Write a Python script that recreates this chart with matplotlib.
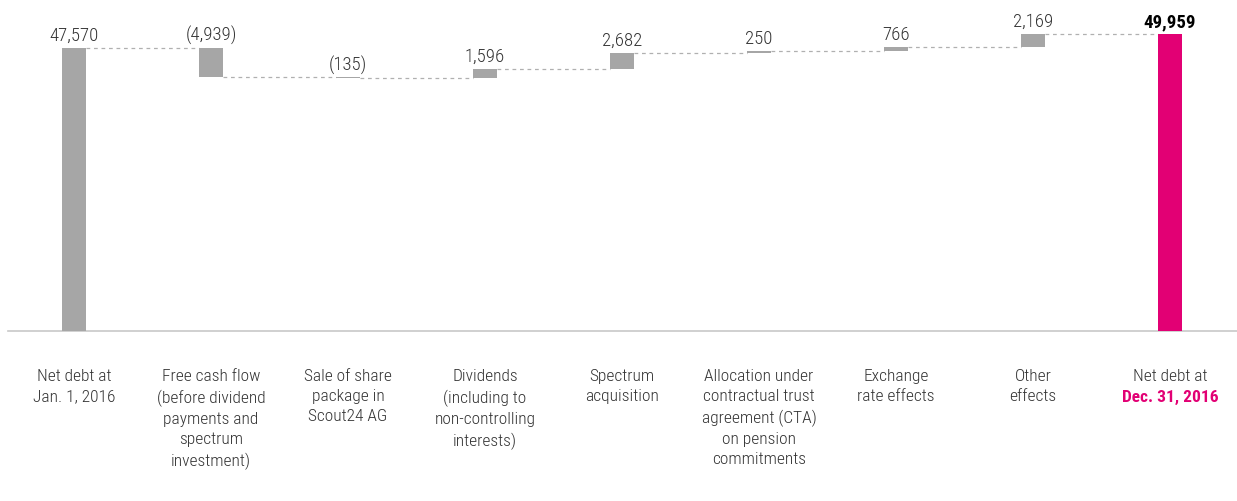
import numpy as np
import matplotlib.pyplot as plt

categories = [
    "Net debt at\nJan. 1, 2016",
    "Free cash flow\n(before dividend\npayments and\nspectrum\ninvestment)",
    "Sale of share\npackage in\nScout24 AG",
    "Dividends\n(including to\nnon-controlling\ninterests)",
    "Spectrum\nacquisition",
    "Allocation under\ncontractual trust\nagreement (CTA)\non pension\ncommitments",
    "Exchange\nrate effects",
    "Other\neffects",
    "Net debt at",
]
last_date = "Dec. 31, 2016"
start_value = 47570
changes = [-4939, -135, 1596, 2682, 250, 766, 2169]
value_labels = ["47,570", "(4,939)", "(135)", "1,596", "2,682", "250", "766", "2,169", "49,959"]

GREY = "#a6a6a6"
MAGENTA = "#e20074"
TEXT = "#333333"
FONT = ["Roboto Condensed", "Fira Sans Condensed", "Liberation Sans", "DejaVu Sans"]

# running totals for the waterfall
totals = np.concatenate([[start_value], start_value + np.cumsum(changes)])
end_value = totals[-1]
bottoms = [0]
heights = [start_value]
for i, c in enumerate(changes):
    bottoms.append(min(totals[i], totals[i + 1]))
    heights.append(abs(c))
bottoms.append(0)
heights.append(end_value)
colors = [GREY] * 8 + [MAGENTA]
x = np.arange(len(categories))
width = 0.17

fig = plt.figure(figsize=(12.37, 5.01), dpi=100)
ax = fig.add_axes([0, 0, 1, 1])
ax.bar(x, heights, bottom=bottoms, width=width, color=colors, edgecolor="none", zorder=3)

# connector lines at running totals
levels = list(totals)
for i in range(len(categories) - 1):
    ax.plot([x[i] + width / 2, x[i + 1] - width / 2], [levels[i], levels[i]],
            color="#b0b0b0", linestyle=(0, (3, 3)), linewidth=0.9, zorder=2)

# value labels above bars
tops = [b + h for b, h in zip(bottoms, heights)]
for i, lab in enumerate(value_labels):
    last = i == len(value_labels) - 1
    ax.annotate(lab, (x[i], tops[i]), xytext=(0, 2), textcoords="offset points",
                ha="center", va="bottom", fontsize=13.5, family=FONT,
                color="black" if last else TEXT,
                fontweight="bold" if last else "light")

# baseline
ax.plot([-0.48, 8.6], [0, 0], color="#c8c8c8", linewidth=1.2, zorder=1)

# category labels
for i, lab in enumerate(categories):
    ax.annotate(lab, (x[i], 0), xytext=(0, -27.3), textcoords="offset points",
                ha="center", va="top", fontsize=12.5, family=FONT, color=TEXT,
                linespacing=1.42, fontweight="light")
ax.annotate(last_date, (x[-1], 0), xytext=(0, -42.8), textcoords="offset points",
            ha="center", va="top", fontsize=12.5, family=FONT, color=MAGENTA,
            fontweight="bold")

ax.set_xlim(-0.54, 8.489)
ax.set_ylim(-28576, 55640)
ax.axis("off")

fig.savefig("out.png", dpi=100)
